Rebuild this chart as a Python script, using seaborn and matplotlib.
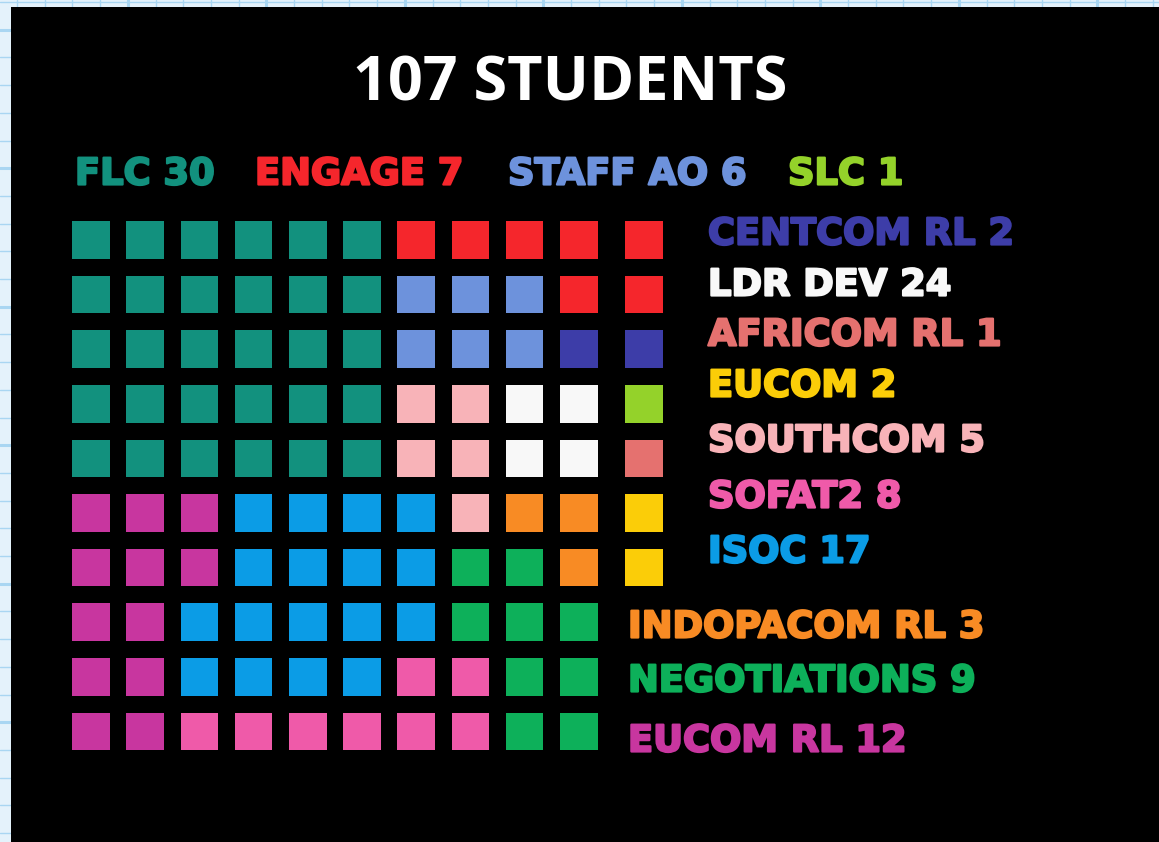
import numpy as np
import pandas as pd
import matplotlib
matplotlib.use("Agg")
import matplotlib.pyplot as plt
import matplotlib.patheffects as pe
import seaborn as sns

sns.set_theme(style="white")

# categories, counts (as printed on the labels) and colours
cats = ["FLC", "ENGAGE", "STAFF AO", "SLC", "CENTCOM RL", "LDR DEV", "AFRICOM RL",
        "EUCOM", "SOUTHCOM", "SOFAT2", "ISOC", "INDOPACOM RL", "NEGOTIATIONS", "EUCOM RL"]
counts = [30, 7, 6, 1, 2, 24, 1, 2, 5, 8, 17, 3, 9, 12]
colors = ["#12917e", "#f5262c", "#6d92dc", "#94d22a", "#3d3da8", "#f8f8f8", "#e5716f",
          "#fbcd08", "#f8b3b8", "#ef5aa9", "#0b9ce6", "#f88b24", "#0db05a", "#c8369f"]
codes = ["F", "E", "S", "G", "C", "L", "A", "U", "H", "P", "I", "O", "N", "M"]

# waffle arrangement, one letter per student
grid = [
    "FFFFFFEEEEE",
    "FFFFFFSSSEE",
    "FFFFFFSSSCC",
    "FFFFFFHHLLG",
    "FFFFFFHHLLA",
    "MMMIIIIHOOU",
    "MMMIIIINNOU",
    "MMIIIIINNN",
    "MMIIIIPPNN",
    "MMPPPPPPNN",
]

code_cat = dict(zip(codes, cats))
rows = []
for r, line in enumerate(grid):
    for c, ch in enumerate(line):
        rows.append({"row": r, "col": c, "cat": code_cat[ch]})
df = pd.DataFrame(rows)

# layout in pixels of the 1159x842 canvas
X0, DX, LAST_GAP = 91, 54.2, 11
Y0, DY = 240, 54.6
df["px"] = X0 + df["col"] * DX + np.where(df["col"] == 10, LAST_GAP, 0)
df["py"] = Y0 + df["row"] * DY

fig = plt.figure(figsize=(11.59, 8.42), dpi=100)
fig.patch.set_facecolor("#e4f2fb")

# notebook paper behind the panel
bg = fig.add_axes([0, 0, 1, 1])
bg.set_xlim(0, 1159)
bg.set_ylim(842, 0)
bg.set_facecolor("#e4f2fb")
for i, v in enumerate(np.arange(17, 1159, 27.7)):
    bg.axvline(v, color="#a9d6f2", lw=2.2 if i % 5 == 4 else 1.0)
for i, v in enumerate(np.arange(2, 842, 27.7)):
    bg.axhline(v, color="#a9d6f2", lw=2.2 if i % 5 == 1 else 1.0)
bg.axis("off")

ax = fig.add_axes([11 / 1159, 0, 1148 / 1159, 835 / 842])
ax.set_facecolor("black")
ax.set_xlim(11, 1159)
ax.set_ylim(842, 7)

sns.scatterplot(data=df, x="px", y="py", hue="cat", palette=dict(zip(cats, colors)),
                marker="s", s=740, linewidth=0, legend=False, ax=ax)

ax.set_xticks([])
ax.set_yticks([])
ax.set_xlabel("")
ax.set_ylabel("")
for s in ax.spines.values():
    s.set_visible(False)

ax.text(570, 85, "107 STUDENTS", color="white", fontsize=44, fontweight="bold",
        family="Open Sans", ha="center", va="center")

lab_font = dict(family="DejaVu Sans", fontweight="bold", fontsize=26.5, va="center", ha="left")


def label(x, y, i):
    ax.text(x, y, f"{cats[i]} {counts[i]}", color=colors[i],
            path_effects=[pe.withStroke(linewidth=1.6, foreground=colors[i])], **lab_font)


# top row labels
top_pos = [(75, 174), (255, 174), (508, 174), (788, 174)]
for i, (x, y) in enumerate(top_pos):
    label(x, y, i)
# right side labels
side_pos = [(708, 234), (708, 285), (708, 335), (708, 386), (708, 441), (708, 497),
            (708, 552), (628, 627), (628, 681), (628, 741)]
for j, (x, y) in enumerate(side_pos):
    label(x, y, j + 4)

fig.savefig("out.png", dpi=100, facecolor=fig.get_facecolor())
